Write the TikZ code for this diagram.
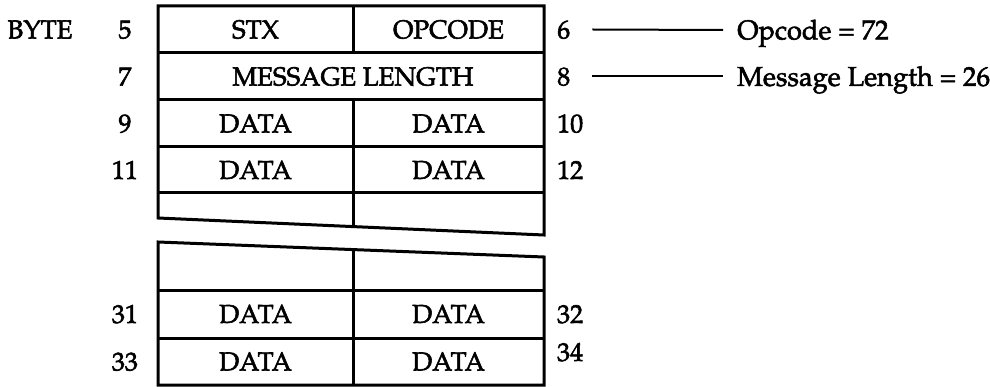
\documentclass[tikz,border=0pt]{standalone}
\usepackage[T1]{fontenc}
\usepackage{mathpazo}
\newcommand{\heavytxt}[1]{\special{pdf:literal direct 2 Tr 0.55 w}#1\special{pdf:literal direct 0 Tr}}
\begin{document}
\begin{tikzpicture}[x=1pt,y=-1pt,line join=miter,
  frame/.style={line width=3pt},
  lbl/.style={inner sep=0pt,font=\fontsize{26}{30}\selectfont,text height=17.9pt,text depth=0pt},
  biglbl/.style={lbl,font=\fontsize{27.2}{31}\selectfont,text height=18.7pt},
  lead/.style={line width=2pt}]
\useasboundingbox (0,0) rectangle (990,387);
% upper block
\draw[frame] (158,6) -- (544,6) -- (544,235) -- (158,218) -- cycle;
\foreach \yy in {53,100,147,193} \draw[frame] (158,\yy) -- (544,\yy);
\draw[frame] (353,6) -- (353,53);
\draw[frame] (353,100) -- (353,227);
% lower block
\draw[frame] (158,242) -- (544,257) -- (544,385) -- (158,385) -- cycle;
\foreach \yy in {290,338} \draw[frame] (158,\yy) -- (544,\yy);
\draw[frame] (353,250) -- (353,385);
% cell texts
\node[lbl] (stx) at (255.5,29.5) {\heavytxt{STX}};
\node[lbl] (opc) at (448.5,29.5) {\heavytxt{OPCODE}};
\node[lbl] (ml) at (353,76.5) {\heavytxt{MESSAGE LENGTH}};
\node[lbl] (d9) at (255.5,123.5) {\heavytxt{DATA}};
\node[lbl] (d10) at (448.5,123.5) {\heavytxt{DATA}};
\node[lbl] (d11) at (255.5,170) {\heavytxt{DATA}};
\node[lbl] (d12) at (448.5,170) {\heavytxt{DATA}};
\node[lbl] (d31) at (255.5,314) {\heavytxt{DATA}};
\node[lbl] (d32) at (448.5,314) {\heavytxt{DATA}};
\node[lbl] (d33) at (255.5,361.5) {\heavytxt{DATA}};
\node[lbl] (d34) at (448.5,361.5) {\heavytxt{DATA}};
% left labels
\node[lbl] (byte) at (40,29.5) {\heavytxt{BYTE}};
\node[lbl] (l5) at (125,29.5) {\heavytxt{5}};
\node[lbl] (l7) at (125,76.5) {\heavytxt{7}};
\node[lbl] (l9) at (125,123.5) {\heavytxt{9}};
\node[lbl] (l11) at (125,170) {\heavytxt{11}};
\node[lbl] (l31) at (125,314) {\heavytxt{31}};
\node[lbl] (l33) at (125,361.5) {\heavytxt{33}};
% right labels
\node[lbl,anchor=west] (r6) at (557,29.5) {\heavytxt{6}};
\node[lbl,anchor=west] (r8) at (557,76.5) {\heavytxt{8}};
\node[lbl,anchor=west] (r10) at (557,123.5) {\heavytxt{10}};
\node[lbl,anchor=west] (r12) at (557,170) {\heavytxt{12}};
\node[lbl,anchor=west] (r32) at (557,314) {\heavytxt{32}};
\node[lbl,anchor=west] (r34) at (557,352) {\heavytxt{34}};
\node[biglbl,anchor=west] (op) at (737,30) {\heavytxt{Opcode = 72}};
\node[biglbl,anchor=west] (mlen) at (737,76.5) {\heavytxt{Message Length = 26}};
\draw[lead] ([xshift=22pt]r6.east) -- ([xshift=-14pt]op.west);
\draw[lead] ([xshift=22pt]r8.east) -- ([xshift=-14pt]mlen.west);
\end{tikzpicture}
\end{document}
